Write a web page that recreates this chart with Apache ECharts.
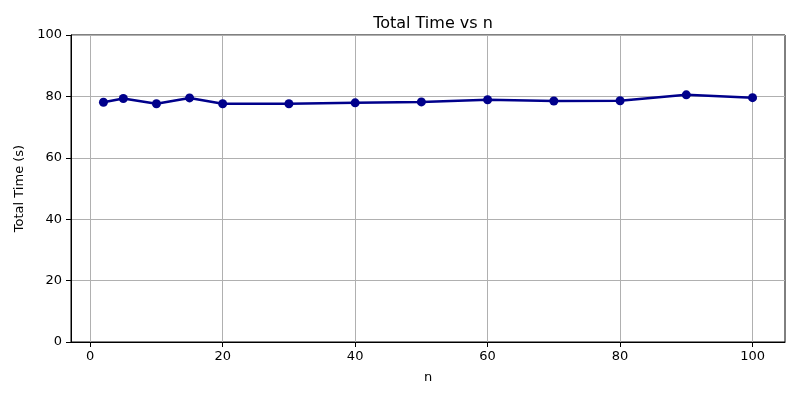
<!DOCTYPE html>
<html><head><meta charset="utf-8">
<script src="https://cdn.jsdelivr.net/npm/echarts@6/dist/echarts.min.js"></script>
<style>html,body{margin:0;padding:0;background:#fff}#c{width:800px;height:400px}</style>
</head><body><div id="c"></div>
<script>
const nValues = [2, 5, 10, 15, 20, 30, 40, 50, 60, 70, 80, 90, 100];
const totalTime = [78.1, 79.3, 77.6, 79.5, 77.6, 77.6, 77.9, 78.2, 78.9, 78.5, 78.6, 80.5, 79.6];
const xTicks = [0, 20, 40, 60, 80, 100];
const yTicks = [0, 20, 40, 60, 80, 100];
const font = 'DejaVu Sans';
const chart = echarts.init(document.getElementById('c'), null, {renderer: 'canvas'});
chart.setOption({
  animation: false,
  title: {text: 'Total Time vs n', left: 428, top: 11, textAlign: 'center',
    textStyle: {fontFamily: font, fontSize: 16, fontWeight: 'normal', color: '#000'}},
  grid: {left: 71, right: 15, top: 35, bottom: 58, show: true, borderColor: '#000', borderWidth: 1, backgroundColor: 'transparent'},
  xAxis: {
    type: 'value', min: -2.9, max: 104.9, interval: 20,
    name: 'n', nameLocation: 'middle', nameGap: 29,
    nameTextStyle: {fontFamily: font, fontSize: 13, color: '#000'},
    axisLine: {show: true, onZero: false, lineStyle: {color: '#000', width: 1}},
    axisTick: {show: true, length: 5, customValues: xTicks, lineStyle: {color: '#000'}},
    axisLabel: {customValues: xTicks, margin: 8, fontFamily: font, fontSize: 13, color: '#000'},
    splitLine: {show: true, lineStyle: {color: '#b0b0b0', width: 1}}
  },
  yAxis: {
    type: 'value', min: 0, max: 100, interval: 20,
    name: 'Total Time (s)', nameLocation: 'middle', nameGap: 39, nameRotate: 90,
    nameTextStyle: {fontFamily: font, fontSize: 13, color: '#000'},
    axisLine: {show: true, onZero: false, lineStyle: {color: '#000', width: 1}},
    axisTick: {show: true, length: 5, lineStyle: {color: '#000'}},
    axisLabel: {margin: 9, fontFamily: font, fontSize: 13, color: '#000',
      customValues: yTicks},
    splitLine: {show: true, lineStyle: {color: '#b0b0b0', width: 1}}
  },
  series: [{
    type: 'line',
    data: nValues.map((n, i) => [n, totalTime[i]]),
    symbol: 'circle', symbolSize: 9,
    lineStyle: {color: '#00008b', width: 2.5},
    itemStyle: {color: '#00008b'},
    clip: false
  }]
});
</script></body></html>
